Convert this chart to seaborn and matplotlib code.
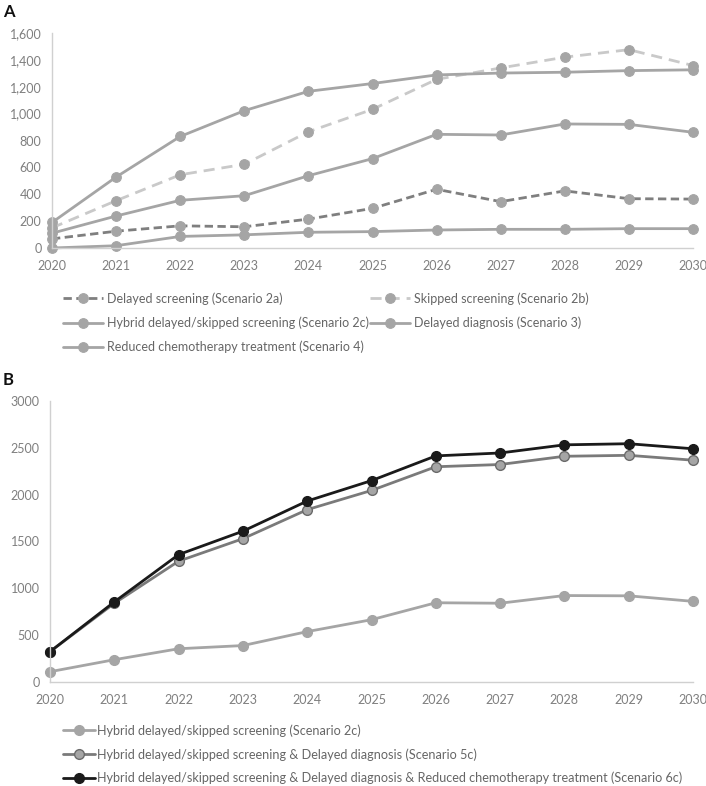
import numpy as np
import pandas as pd
import matplotlib
matplotlib.use("Agg")
import matplotlib.pyplot as plt
import matplotlib.ticker as mticker
import seaborn as sns

# data
years = [2020, 2021, 2022, 2023, 2024, 2025, 2026, 2027, 2028, 2029, 2030]

delayed_screening_2a = [68, 125, 165, 158, 215, 295, 437, 345, 425, 367, 364]
skipped_screening_2b = [150, 352, 545, 623, 865, 1032, 1255, 1340, 1420, 1476, 1358]
hybrid_screening_2c = [110, 238, 355, 389, 538, 665, 846, 841, 923, 920, 861]
delayed_diagnosis_3 = [190, 528, 830, 1022, 1166, 1224, 1288, 1302, 1308, 1320, 1326]
reduced_chemo_4 = [0, 17, 86, 98, 117, 122, 134, 139, 139, 144, 144]

hybrid_diag_5c = [324, 840, 1290, 1530, 1840, 2045, 2298, 2322, 2410, 2420, 2368]
hybrid_diag_chemo_6c = [324, 855, 1360, 1610, 1932, 2150, 2414, 2445, 2532, 2544, 2490]

labels_a = ["Delayed screening (Scenario 2a)",
            "Skipped screening (Scenario 2b)",
            "Hybrid delayed/skipped screening (Scenario 2c)",
            "Delayed diagnosis (Scenario 3)",
            "Reduced chemotherapy treatment (Scenario 4)"]
labels_b = ["Hybrid delayed/skipped screening (Scenario 2c)",
            "Hybrid delayed/skipped screening & Delayed diagnosis (Scenario 5c)",
            "Hybrid delayed/skipped screening & Delayed diagnosis & Reduced chemotherapy treatment (Scenario 6c)"]

sns.set_theme(style="white")
plt.rcParams['font.family'] = ['Lato', 'DejaVu Sans']

W, H = 706, 786
fig = plt.figure(figsize=(W / 100, H / 100), dpi=100)

def px_axes(left, top, right, bottom):
    return fig.add_axes([left / W, 1 - bottom / H, (right - left) / W, (bottom - top) / H])

tick_col = "#7f7f7f"
spine_col = "#d0d0d0"
mid = "#a5a5a5"

def style_axes(ax, ymax, ystep):
    ax.set_xlim(2020, 2030)
    ax.set_ylim(0, ymax)
    ax.set_xticks(years)
    ax.set_yticks(np.arange(0, ymax + 1, ystep))
    for s in ["top", "right"]:
        ax.spines[s].set_visible(False)
    for s in ["left", "bottom"]:
        ax.spines[s].set_color(spine_col)
        ax.spines[s].set_linewidth(1)
    ax.tick_params(axis="both", colors=spine_col, labelcolor=tick_col, labelsize=9,
                   length=4, width=1, direction="out")
    ax.tick_params(axis="x", pad=5)
    ax.set_xlabel("")
    ax.set_ylabel("")

# ---- panel A
ax1 = px_axes(52, 33, 693, 248)
lines_a = []
specs_a = [
    (delayed_screening_2a, "#7f7f7f", (0, (3, 1.6)), 2.0),
    (skipped_screening_2b, "#c9c9c9", (0, (4, 2.5)), 2.0),
    (hybrid_screening_2c, mid, "-", 2.0),
    (delayed_diagnosis_3, mid, "-", 2.0),
    (reduced_chemo_4, mid, "-", 2.0),
]
for (vals, col, ls, lw), lab in zip(specs_a, labels_a):
    sns.lineplot(x=years, y=vals, ax=ax1, color=col, linestyle=ls, linewidth=lw,
                 marker="o", markersize=7, markerfacecolor=mid, markeredgecolor=mid,
                 label=lab, legend=False, clip_on=False)
    lines_a.append(ax1.get_lines()[-1])
style_axes(ax1, 1600, 200)
ax1.yaxis.set_major_formatter(mticker.FuncFormatter(lambda v, p: f"{int(v):,}"))

order = [0, 2, 4, 1, 3]
fig.legend([lines_a[i] for i in order], [labels_a[i] for i in order],
           loc="upper left", bbox_to_anchor=(58 / W, 1 - 287 / H), ncol=2,
           frameon=False, fontsize=9, labelcolor="#666666", handlelength=3.2,
           handletextpad=0.3, columnspacing=0.1, labelspacing=0.95, borderaxespad=0)

# ---- panel B
ax2 = px_axes(50, 401, 693, 682)
specs_b = [
    (hybrid_screening_2c, mid, mid, mid),
    (hybrid_diag_5c, "#7a7a7a", "#a5a5a5", "#6a6a6a"),
    (hybrid_diag_chemo_6c, "#1a1a1a", "#1a1a1a", "#1a1a1a"),
]
lines_b = []
for (vals, col, fc, ec), lab in zip(specs_b, labels_b):
    sns.lineplot(x=years, y=vals, ax=ax2, color=col, linewidth=2.0,
                 marker="o", markersize=7, markerfacecolor=fc, markeredgecolor=ec,
                 markeredgewidth=1, label=lab, legend=False, clip_on=False)
    lines_b.append(ax2.get_lines()[-1])
style_axes(ax2, 3000, 500)

fig.legend(lines_b, labels_b, loc="upper left", bbox_to_anchor=(58 / W, 1 - 719 / H),
           ncol=1, frameon=False, fontsize=9.1, labelcolor="#666666", handlelength=2.5,
           handletextpad=0.2, labelspacing=0.9, borderaxespad=0)

fig.text(3 / W, 1 - 4 / H, "A", fontsize=12, fontweight="bold", va="top", ha="left", color="#111111")
fig.text(3 / W, 1 - 372 / H, "B", fontsize=12, fontweight="bold", va="top", ha="left", color="#111111")

fig.savefig("out.png", dpi=100)
